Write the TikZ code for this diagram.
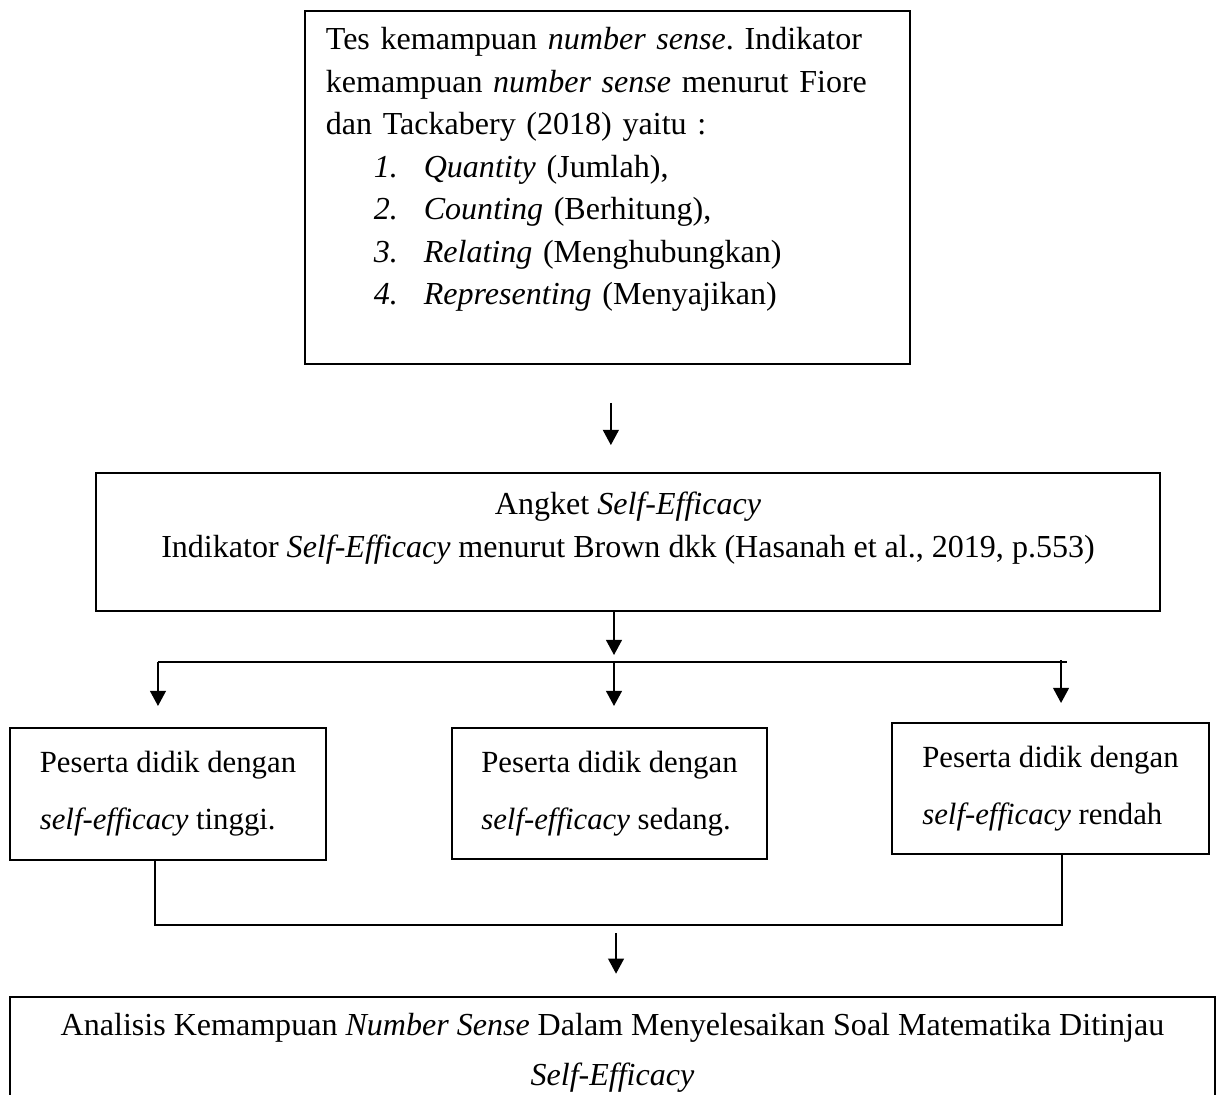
\documentclass[tikz,border=0pt]{standalone}
\usepackage{fontspec}
\setmainfont{Liberation Serif}
\usepackage{tikz}
\usetikzlibrary{positioning,calc,arrows.meta}
\frenchspacing
\newcommand{\butir}[2]{\hspace*{18.7pt}\makebox[19.5pt][l]{\textit{#1.}}#2}

\begin{document}
\begin{tikzpicture}[
    kotak/.style={draw, line width=0.75pt, inner sep=0pt},
    teks/.style={font=\fontsize{12.5pt}{#1}\selectfont},
    teksk/.style={font=\fontsize{12pt}{#1}\selectfont},
    alur/.style={-{Triangle[width=6.2pt,length=5.9pt]}, line width=0.6pt},
    garis/.style={line width=0.6pt}
]
    \useasboundingbox (0,0) rectangle (16.740,-15.012);

    % Tes number sense
    \node[kotak, teks=16.6pt, text width=219.6pt, inner xsep=8.2pt, align=left,
          minimum width=8.29cm, minimum height=4.84cm] (tes) at (8.327,-2.570) {
        Tes kemampuan \textit{number sense}. Indikator\\
        kemampuan \textit{number sense} menurut Fiore\\
        dan Tackabery (2018) yaitu :\\
        \butir{1}{\textit{Quantity} (Jumlah),}\\
        \butir{2}{\textit{Counting} (Berhitung),}\\
        \butir{3}{\textit{Relating} (Menghubungkan)}\\
        \butir{4}{\textit{Representing} (Menyajikan)}\\
        \mbox{}
    };

    % Angket self-efficacy
    \node[kotak, teks=16.8pt, align=center, minimum width=14.584cm, minimum height=1.892cm]
        (angket) at (8.610,-7.431) {
        Angket \textit{Self-Efficacy}\\
        Indikator \textit{Self-Efficacy} menurut Brown dkk (Hasanah et al., 2019, p.553)\\[-3.3pt]
        \mbox{}
    };

    % Kategori peserta didik
    \node[kotak, teksk=22.2pt, align=left, minimum width=4.332cm, minimum height=1.810cm]
        (tinggi) at (2.303,-10.885) {Peserta didik dengan\\\textit{self-efficacy} tinggi.};
    \node[kotak, teksk=22.2pt, align=left, minimum width=4.318cm, minimum height=1.796cm]
        (sedang) at (8.356,-10.878) {Peserta didik dengan\\\textit{self-efficacy} sedang.};
    \node[kotak, teksk=22.2pt, align=left, minimum width=4.346cm, minimum height=1.796cm]
        (rendah) at (14.402,-10.809) {Peserta didik dengan\\\textit{self-efficacy} rendah};

    % Analisis
    \node[kotak, teks=19.5pt, align=center, minimum width=16.518cm, minimum height=1.535cm]
        (analisis) at (8.397,-14.430) {
        Analisis Kemampuan \textit{Number Sense} Dalam Menyelesaikan Soal Matematika Ditinjau\\
        \textit{Self-Efficacy}
    };

    % Titik cabang
    \coordinate (pecah) at (8.418,-9.076);
    \coordinate (kiri) at (2.166,-9.076);
    \coordinate (kanan) at (14.629,-9.076);
    \coordinate (tanda) at (14.547,-9.049);
    \coordinate (gabungkiri) at (2.125,-12.682);
    \coordinate (gabungkanan) at (14.560,-12.682);
    \coordinate (gabung) at (8.446,-12.682);

    % Edges
    \draw[alur, shorten <=0.521cm, shorten >=0.370cm]
        ([xshift=0.048cm]tes.south) -- ([xshift=0.048cm]tes.south |- angket.north);
    \draw[alur, shorten >=0.096cm] (angket.south -| pecah) -- (pecah);
    \draw[garis] (kiri) -- (kanan);
    \draw[alur, shorten >=0.288cm] (kiri) -- (kiri |- tinggi.north);
    \draw[alur, shorten >=0.288cm] (pecah) -- (pecah |- sedang.north);
    \draw[alur, shorten >=0.260cm] (tanda) -- (tanda |- rendah.north);
    \draw[garis] (tinggi.south -| gabungkiri) -- (gabungkiri) -- (gabungkanan)
        -- (gabungkanan |- rendah.south);
    \draw[alur, shorten <=0.110cm, shorten >=0.300cm] (gabung) -- (gabung |- analisis.north);
\end{tikzpicture}
\end{document}
